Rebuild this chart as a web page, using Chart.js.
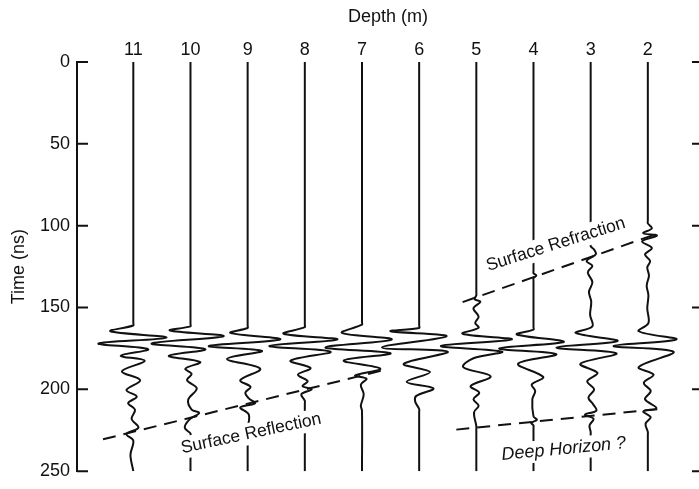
<!DOCTYPE html>
<html>
<head>
<meta charset="utf-8">
<script src="https://cdn.jsdelivr.net/npm/chart.js@4.4.0/dist/chart.umd.min.js"></script>
<style>
  html, body { margin: 0; padding: 0; background: #fff; }
</style>
</head>
<body>
<canvas id="traces" width="699" height="489"></canvas>
<script>
// Depth of each receiver trace (m), plotted left to right
const depths = [11, 10, 9, 8, 7, 6, 5, 4, 3, 2];
const timeTicks = [0, 50, 100, 150, 200, 250];

// Wiggle traces: [time (ns), amplitude in trace spacings, + = to the right]
const trace11 = [[0, 0], [159.5, 0], [161, 0], [164.5, -0.40], [168.4, 0.58], [172, -0.61], [175.5, 0.26], [179.5, -0.22], [182.5, 0.2], [189, -0.2], [194.4, 0.12], [200.4, -0.12], [204.4, 0.06], [208.4, -0.09], [212.4, 0.03], [218, -0.03], [223.4, 0.09], [227.3, -0.12], [231.3, 0], [240, -0.05], [250, 0]];
const trace10 = [[0, 0], [160, 0], [161.5, 0], [164, -0.36], [167.5, 0.58], [172, -0.68], [175.5, 0.26], [179.5, -0.38], [183.3, 0.17], [187.4, -0.09], [190.5, 0.02], [194.4, -0.06], [199.4, 0.11], [206.4, -0.04], [212.4, 0.02], [214.4, 0.15], [218.5, -0.02], [223.4, -0.1], [227, 0], [229, 0], [250, 0]];
const trace9 = [[0, 0], [161, 0], [162.5, 0], [165.5, -0.30], [169.5, 0.57], [173.5, -0.68], [176.5, 0.25], [181.4, -0.36], [187.4, 0.22], [194.4, -0.13], [198.5, 0.05], [202, -0.04], [205.5, 0.02], [208.5, 0.13], [211, -0.13], [215.4, 0.02], [224, 0], [226, 0], [250, 0]];
const trace8 = [[0, 0], [160.5, 0], [162, 0], [166, -0.37], [169.5, 0.57], [173.5, -0.62], [177, 0.45], [182.5, -0.25], [187, 0.1], [191, -0.12], [195, 0.05], [198, -0.04], [200, 0.12], [203, -0.06], [207, 0], [209, 0], [250, 0]];
const trace7 = [[0, 0], [159, 0], [160.5, 0], [165.5, -0.35], [169.5, 0.52], [174.4, -0.64], [178, 0.5], [182.4, -0.32], [187.4, 0.32], [191.5, -0.12], [193.5, 0.08], [197, -0.02], [203, 0.03], [210, -0.02], [213, 0], [250, 0]];
const trace6 = [[0, 0], [161, 0], [162.5, 0], [164.5, -0.5], [167.5, 0.48], [174.4, -0.65], [177, 0.5], [184.4, -0.27], [189.4, 0.19], [195.4, -0.22], [199.4, 0.25], [204, -0.05], [207.4, -0.07], [212, 0], [214, 0], [250, 0]];
const trace5 = [[0, 0], [141, 0], [142.5, 0], [145, -0.03], [146.5, 0.07], [150.5, -0.05], [155.5, 0.04], [159.5, -0.02], [162.3, 0.04], [166, -0.24], [169.5, 0.62], [173.5, -0.62], [177, 0.45], [181, -0.05], [186.4, -0.23], [192, 0.25], [198, -0.1], [202, 0.05], [206, -0.05], [210, 0.04], [214, -0.04], [222.4, 0], [224, 0], [250, 0]];
const trace4 = [[0, 0], [127.5, 0], [129, 0], [130.5, 0.05], [132, 0], [133.5, 0], [162, 0], [163.5, 0], [166.5, -0.29], [171, 0.53], [175, -0.6], [178.5, 0.4], [184.4, -0.27], [192.4, 0.17], [197, -0.03], [201, 0.03], [206, -0.02], [216.5, 0], [218.6, 0.06], [220.5, -0.04], [222, 0], [223.5, 0], [250, 0]];
const trace3 = [[0, 0], [111, 0], [112.6, 0], [114.6, 0.06], [117.5, 0.09], [121.6, -0.07], [124.5, 0.03], [128.5, -0.05], [134.5, 0.03], [140.5, -0.03], [146.5, 0.01], [154.5, -0.01], [161.5, 0.03], [165.5, -0.26], [170.5, 0.47], [174.5, -0.6], [178, 0.45], [184.4, -0.18], [190, 0.12], [195, -0.06], [200, 0.06], [205, -0.04], [209, 0.04], [213, 0.1], [215.5, -0.1], [218, 0.05], [222, -0.02], [226, 0], [228, 0], [250, 0]];
const trace2 = [[0, 0], [97, 0], [98.6, 0], [101.6, 0.07], [104.6, -0.08], [106, 0.16], [109.6, -0.1], [113.6, 0.07], [117.6, -0.05], [121.6, 0.04], [125.5, -0.01], [130.5, 0.02], [136.5, -0.02], [142.5, 0.01], [150.5, -0.01], [159.5, 0.01], [164.5, -0.16], [169.5, 0.5], [173.5, -0.6], [177, 0.45], [186.4, -0.16], [191, 0.1], [196, -0.07], [201, 0.05], [206, -0.05], [211.4, 0.15], [213.5, -0.08], [217, 0.05], [221, -0.04], [226, 0], [228, 0], [250, 0]];

const traces = [trace11, trace10, trace9, trace8, trace7, trace6, trace5, trace4, trace3, trace2];

// Picked events: [depth (m), time (ns)] end points
const reflectionLine = [[11.53, 230.5], [6.59, 188]];
const refractionLine = [[5.24, 146.7], [1.83, 104.8]];
const deepLine = [[5.35, 224.6], [1.81, 212]];

const FONT = '"Liberation Sans", Arial, Helvetica, sans-serif';

const notes = [
  { text: 'Surface Reflection', depth: 8.94, time: 227, angle: -12, style: 'normal', size: 17.5 },
  { text: 'Surface Refraction', depth: 3.61, time: 111.5, angle: -17.5, style: 'normal', size: 17.5 },
  { text: 'Deep Horizon ?', depth: 3.47, time: 236.5, angle: -5.5, style: 'italic', size: 18 }
];

const datasets = traces.map((tr, i) => ({
  data: tr.map(p => ({ x: depths[i] - p[1], y: p[0] })),
  showLine: true,
  borderColor: '#111',
  borderWidth: 2,
  pointRadius: 0,
  tension: 0.35
}));

[reflectionLine, refractionLine, deepLine].forEach(l => {
  datasets.push({
    data: l.map(p => ({ x: p[0], y: p[1] })),
    showLine: true,
    borderColor: '#111',
    borderWidth: 2,
    borderDash: [13, 8],
    pointRadius: 0,
    tension: 0
  });
});

// tick marks pointing into the plot, both sides
const innerTicks = {
  id: 'innerTicks',
  afterDraw(chart) {
    const { ctx, chartArea: a, scales: { y } } = chart;
    ctx.save();
    ctx.strokeStyle = '#111';
    ctx.lineWidth = 2;
    y.ticks.forEach(t => {
      const py = y.getPixelForValue(t.value);
      ctx.beginPath();
      ctx.moveTo(a.left, py);
      ctx.lineTo(a.left + 11, py);
      ctx.moveTo(a.right - 7, py);
      ctx.lineTo(a.right, py);
      ctx.stroke();
    });
    ctx.restore();
  }
};

// rotated event labels on a white patch
const eventLabels = {
  id: 'eventLabels',
  afterDatasetsDraw(chart) {
    const { ctx, scales: { x, y } } = chart;
    notes.forEach(n => {
      const px = x.getPixelForValue(n.depth);
      const py = y.getPixelForValue(n.time);
      ctx.save();
      ctx.translate(px, py);
      ctx.rotate(n.angle * Math.PI / 180);
      ctx.font = n.style + ' ' + n.size + 'px ' + FONT;
      const w = ctx.measureText(n.text).width;
      ctx.fillStyle = '#fff';
      ctx.fillRect(-w / 2 - 3, -11, w + 6, 22);
      ctx.fillStyle = '#111';
      ctx.textAlign = 'center';
      ctx.textBaseline = 'middle';
      ctx.fillText(n.text, 0, 0);
      ctx.restore();
    });
  }
};

new Chart(document.getElementById('traces'), {
  type: 'scatter',
  data: { datasets: datasets },
  options: {
    responsive: false,
    animation: false,
    layout: { padding: { left: 0, right: 0, top: 0, bottom: 9.5 } },
    plugins: { legend: { display: false }, tooltip: { enabled: false } },
    scales: {
      x: {
        type: 'linear',
        position: 'top',
        reverse: true,
        min: 1.105,
        max: 11.985,
        afterBuildTicks: s => { s.ticks = depths.map(v => ({ value: v })); },
        afterFit: s => { s.height = 62; },
        grid: { display: false, drawTicks: false },
        border: { display: false },
        ticks: { autoSkip: false, maxRotation: 0, padding: 1, color: '#111', font: { family: FONT, size: 18 } },
        title: { display: true, text: 'Depth (m)', color: '#111', padding: { top: 6, bottom: 0 }, font: { family: FONT, size: 18 } }
      },
      y: {
        type: 'linear',
        position: 'left',
        reverse: true,
        min: 0,
        max: 250,
        afterBuildTicks: s => { s.ticks = timeTicks.map(v => ({ value: v })); },
        afterFit: s => { s.width = 77; },
        grid: { display: false, drawTicks: false },
        border: { display: true, color: '#111', width: 2 },
        ticks: { padding: 7, color: '#111', font: { family: FONT, size: 18 } },
        title: { display: true, text: 'Time (ns)', color: '#111', padding: { top: 8, bottom: 0 }, font: { family: FONT, size: 18 } }
      }
    }
  },
  plugins: [innerTicks, eventLabels]
});
</script>
</body>
</html>
